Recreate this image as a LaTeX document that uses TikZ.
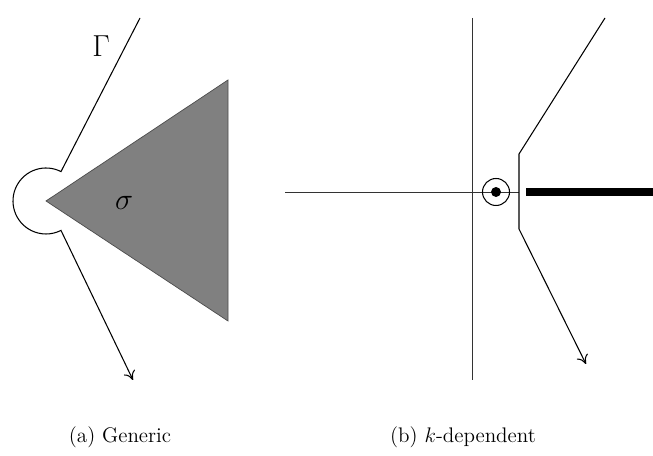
\documentclass[tikz,border=0pt]{standalone}
\usepackage{amsmath,amssymb}
\usepackage{xcolor}
\usepackage{tikz}
\usetikzlibrary{arrows.meta,calc,positioning}
\definecolor{wedgegray}{HTML}{808080}
\newlength{\unitpx}
\setlength{\unitpx}{0.567pt}
\tikzset{
  axisline/.style={black!80,line width=0.4pt},
  contour/.style={black,line width=0.6pt},
  tip/.style={-{To[length=5pt,width=7pt]}},
  wedge/.style={fill=wedgegray,draw=black!70,line width=0.4pt},
  cut/.style={black,line width=5pt},
  pole/.style={circle,fill=black,inner sep=0pt,minimum size=10\unitpx},
  label/.style={font=\fontsize{18}{20}\selectfont},
  caption/.style={font=\large}
}

\begin{document}
\begin{tikzpicture}[x=0.02cm,y=0.02cm]
\useasboundingbox (0,0) rectangle (653,456);
\coordinate (apex) at (46,255);
\coordinate (wtop) at (228,376);
\coordinate (wbot) at (228,135);
\coordinate (gin) at (140,438);
\coordinate (gout) at (133,76);
\fill[wedge] (apex) -- (wtop) -- (wbot) -- cycle;
\draw[contour,tip] (gin) -- ($(apex)+(63:33)$) arc[start angle=63,end angle=297,radius=33] -- (gout);
\node[label] (gamma) at (101,410) {$\Gamma$};
\node[label] (sigma) at (124,253) {$\sigma$};
\coordinate (vtop) at (472,438);
\coordinate (vbot) at (472,76);
\coordinate (hleft) at (285,264);
\coordinate (origin) at (496,264);
\coordinate (ctop) at (605,438);
\coordinate (c1) at (519,302);
\coordinate (c2) at (519,227);
\coordinate (cend) at (586,92);
\coordinate (cutl) at (526,264);
\coordinate (cutr) at (653,264);
\draw[axisline] (vtop) -- (vbot);
\draw[axisline] (hleft) -- (519,264);
\draw[contour] (origin) circle[radius=13.5];
\node[pole] (p0) at (origin) {};
\draw[cut] (cutl) -- (cutr);
\draw[contour,tip] (ctop) -- (c1) -- (c2) -- (cend);
\node[caption] (capa) at (120,19) {(a) Generic};
\node[caption] (capb) at (463,19) {(b) $k$-dependent};
\end{tikzpicture}
\end{document}
